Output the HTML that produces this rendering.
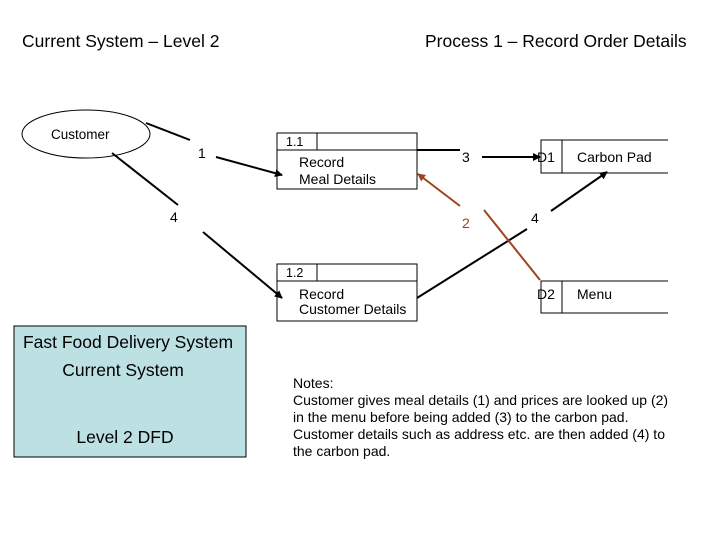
<!DOCTYPE html>
<html><head><style>
body{margin:0;background:#fff;}
svg text{font-family:"Liberation Sans",Arial,sans-serif;}
</style></head><body>
<svg width="720" height="540" xmlns="http://www.w3.org/2000/svg">
<defs>
<marker id="a" markerWidth="8" markerHeight="8" refX="7" refY="4" orient="auto" markerUnits="userSpaceOnUse"><path d="M0,0 L8,4 L0,8 z" fill="#000"/></marker>
<marker id="b" markerWidth="8" markerHeight="8" refX="7" refY="4" orient="auto" markerUnits="userSpaceOnUse"><path d="M0,0 L8,4 L0,8 z" fill="#a0441e"/></marker>
</defs>
<text x="22" y="47" font-size="17.5">Current System – Level 2</text>
<text x="425" y="47" font-size="17.5">Process 1 – Record Order Details</text>
<ellipse cx="86" cy="134" rx="64" ry="24" fill="#fff" stroke="#000"/>
<text x="51" y="139" font-size="13.5">Customer</text>
<rect x="277" y="133" width="140" height="56" fill="#fff" stroke="#000"/>
<line x1="277" y1="150" x2="417" y2="150" stroke="#000"/>
<line x1="317" y1="133" x2="317" y2="150" stroke="#000"/>
<text x="286" y="146" font-size="12.5">1.1</text>
<text x="299" y="167" font-size="14">Record</text>
<text x="299" y="184" font-size="14">Meal Details</text>
<rect x="277" y="264" width="140" height="57" fill="#fff" stroke="#000"/>
<line x1="277" y1="281" x2="417" y2="281" stroke="#000"/>
<line x1="317" y1="264" x2="317" y2="281" stroke="#000"/>
<text x="286" y="277" font-size="12.5">1.2</text>
<text x="299" y="299" font-size="14">Record</text>
<text x="299" y="314" font-size="14">Customer Details</text>
<path d="M668,140 H541 V173 H668 M562,140 V173" fill="none" stroke="#000"/>
<text x="537" y="162" font-size="14">D1</text>
<text x="577" y="162" font-size="14">Carbon Pad</text>
<path d="M668,281 H541 V313 H668 M562,281 V313" fill="none" stroke="#000"/>
<text x="537" y="299" font-size="14">D2</text>
<text x="577" y="299" font-size="14">Menu</text>
<g stroke="#000" stroke-width="2" fill="none">
<line x1="146" y1="123" x2="190" y2="140"/>
<line x1="216" y1="157" x2="282" y2="175" marker-end="url(#a)"/>
<line x1="112" y1="153" x2="178" y2="205"/>
<line x1="203" y1="232" x2="282" y2="298" marker-end="url(#a)"/>
<line x1="417" y1="150" x2="460" y2="150"/>
<line x1="482" y1="157" x2="540" y2="157" marker-end="url(#a)"/>
<line x1="417" y1="298" x2="527" y2="229"/>
<line x1="551" y1="211" x2="607" y2="172" marker-end="url(#a)"/>
</g>
<g stroke="#a0441e" stroke-width="2" fill="none">
<line x1="540" y1="280" x2="484" y2="210"/>
<line x1="460" y1="206" x2="418" y2="174" marker-end="url(#b)"/>
</g>
<text x="198" y="158" font-size="14">1</text>
<text x="170" y="222" font-size="14">4</text>
<text x="462" y="162" font-size="14">3</text>
<text x="462" y="228" font-size="14" fill="#a0441e">2</text>
<text x="531" y="223" font-size="14">4</text>
<rect x="14" y="326" width="232" height="131" fill="#bde0e3" stroke="#000"/>
<text x="128" y="348" font-size="17.5" text-anchor="middle">Fast Food Delivery System</text>
<text x="123" y="376" font-size="17.5" text-anchor="middle">Current System</text>
<text x="125" y="443" font-size="17.5" text-anchor="middle">Level 2 DFD</text>
<g font-size="14">
<text x="293" y="388">Notes:</text>
<text x="293" y="405">Customer gives meal details (1) and prices are looked up (2)</text>
<text x="293" y="422">in the menu before being added (3) to the carbon pad.</text>
<text x="293" y="439">Customer details such as address etc. are then added (4) to</text>
<text x="293" y="456">the carbon pad.</text>
</g>
</svg>
</body></html>
